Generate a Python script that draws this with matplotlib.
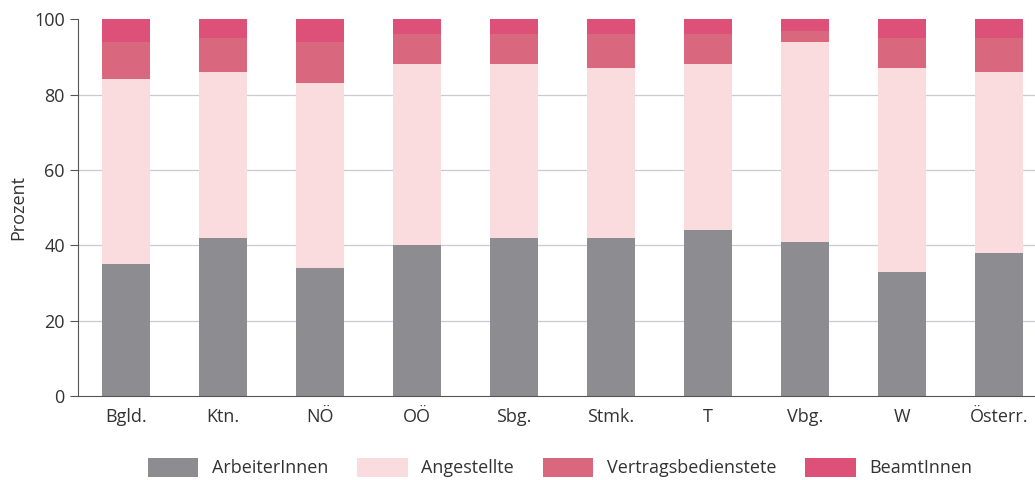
import numpy as np
import matplotlib
matplotlib.use("Agg")
import matplotlib.pyplot as plt

regions = ["Bgld.", "Ktn.", "NÖ", "OÖ", "Sbg.", "Stmk.", "T", "Vbg.", "W", "Österr."]
arbeiter = [35, 42, 34, 40, 42, 42, 44, 41, 33, 38]
angestellte = [49, 44, 49, 48, 46, 45, 44, 53, 54, 48]
vertrag = [10, 9, 11, 8, 8, 9, 8, 3, 8, 9]
beamte = [6, 5, 6, 4, 4, 4, 4, 3, 5, 5]

SERIES = [("ArbeiterInnen", arbeiter, "#8d8d91"),
          ("Angestellte", angestellte, "#fadbde"),
          ("Vertragsbedienstete", vertrag, "#d9677d"),
          ("BeamtInnen", beamte, "#dd5078")]

plt.rcParams["font.family"] = ["Open Sans", "DejaVu Sans"]
TXT = "#333333"

fig = plt.figure(figsize=(10.35, 4.8), dpi=100)
ax = fig.add_axes([0.0754, 0.175, 0.9246, 0.785])

x = np.arange(len(regions))
bottom = np.zeros(len(regions))
handles = []
for name, vals, col in SERIES:
    h = ax.bar(x, vals, width=0.5, bottom=bottom, color=col, label=name, zorder=2)
    handles.append(h)
    bottom += np.array(vals)

ax.set_xlim(-0.495, 9.37)
ax.set_ylim(0, 100)
ax.set_yticks([0, 20, 40, 60, 80, 100])
for yv in [20, 40, 60, 80]:
    ax.axhline(yv, color="#c9cad6", lw=0.9, zorder=1)
ax.set_xticks(x)
ax.set_xticklabels(regions, fontsize=13, color=TXT)
ax.tick_params(axis="y", labelsize=13, labelcolor=TXT, length=6, color="#555555")
ax.tick_params(axis="x", length=0, pad=9)
ax.set_ylabel("Prozent", fontsize=13, color=TXT, labelpad=5)
ax.spines[["top", "right"]].set_visible(False)
ax.spines["left"].set_color("#555555")
ax.spines["bottom"].set_color("#555555")

fig.legend(handles=handles, loc="center", bbox_to_anchor=(0.541, 0.026), ncol=4,
           frameon=False, fontsize=13, handlelength=2.8, handleheight=1.25,
           columnspacing=1.6, handletextpad=0.75, labelcolor=TXT)

fig.savefig("out.png", dpi=100)
